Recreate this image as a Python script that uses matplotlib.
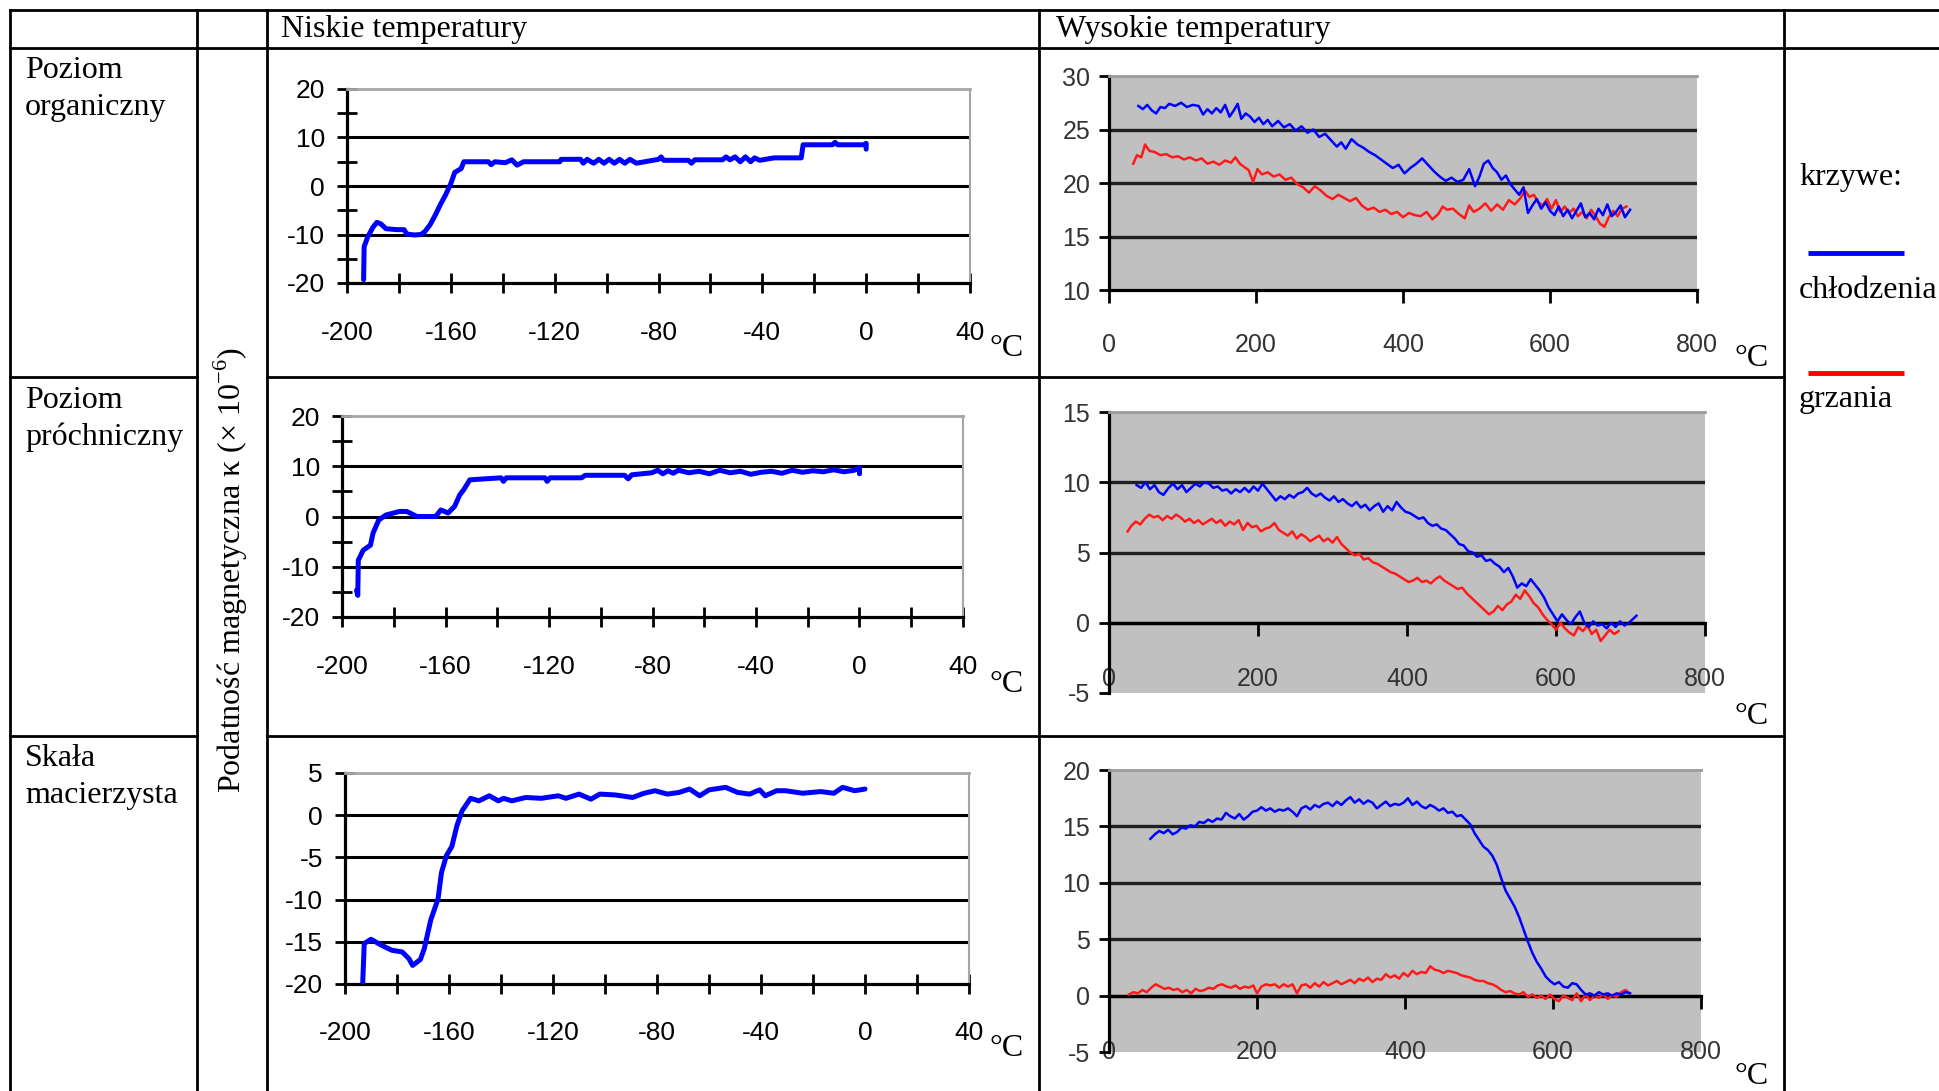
import numpy as np
import matplotlib
matplotlib.use('Agg')
import matplotlib.pyplot as plt

plt.rcParams['font.family'] = ['Liberation Serif', 'DejaVu Serif']
plt.rcParams['axes.unicode_minus'] = False
plt.rcParams['mathtext.fontset'] = 'custom'
plt.rcParams['mathtext.rm'] = 'Liberation Serif'

# ---- low temperature curves (kappa vs T in deg C) ----
T1 = [-193.6, -193.4, -192, -190, -188.5, -187, -185, -181, -178, -177, -174, -171.5, -170, -168,
      -166, -164, -162, -160, -158.5, -156, -155, -145.5, -144.5, -143, -139, -136.5, -134.5, -132,
      -118, -117.5, -110, -109, -107.5, -105, -103, -101, -99, -97, -95, -93, -91, -88.5, -80, -79,
      -78, -68.5, -67.3, -66, -55.3, -54, -52.5, -50.5, -48.5, -46.5, -44.5, -43, -41, -35.5, -25,
      -24.3, -13, -12, -11, -1, 0, 0]
k1 = [-19.3, -12.5, -10.5, -8.5, -7.5, -7.8, -8.8, -9.0, -9.0, -9.9, -10.1, -10.0, -9.4, -8.0,
      -6.0, -3.8, -1.8, 0.5, 2.8, 3.6, 5.0, 5.0, 4.4, 5.0, 4.8, 5.4, 4.3, 5.0,
      5.0, 5.5, 5.5, 4.7, 5.5, 4.7, 5.5, 4.7, 5.5, 4.7, 5.5, 4.7, 5.5, 4.7, 5.5, 6.0,
      5.3, 5.3, 4.7, 5.4, 5.4, 6.0, 5.4, 6.0, 5.0, 6.0, 5.0, 5.8, 5.3, 5.8, 5.8,
      8.5, 8.5, 9.0, 8.5, 8.5, 8.8, 7.6]

T2 = [-194.4, -193.9, -193.7, -191.8, -189, -188, -185.8, -183, -177.8, -175, -171, -163.8, -161.8,
      -159, -156.5, -154.5, -153, -150.6, -138.5, -137.6, -136.5, -121.6, -120.7, -119.6, -107.4,
      -106, -90.8, -89.4, -88, -80.3, -78, -76, -74, -72, -70, -66, -62, -58, -54, -50, -46, -42,
      -38, -34, -30, -26, -22, -18, -14, -10, -6, -2, 0, 0]
k2 = [-14.7, -15.7, -8.7, -6.7, -5.7, -3.3, -0.7, 0.3, 1.0, 1.0, 0.0, 0.0, 1.3,
      0.7, 2.0, 4.3, 5.3, 7.3, 7.7, 7.0, 7.7, 7.7, 7.0, 7.7, 7.7,
      8.2, 8.2, 7.5, 8.3, 8.7, 9.2, 8.5, 9.1, 8.6, 9.2, 8.7, 9.0, 8.5, 9.2, 8.7, 9.0, 8.4,
      8.8, 9.0, 8.6, 9.2, 8.8, 9.1, 8.9, 9.3, 8.9, 9.2, 9.7, 8.5]

T3 = [-193.2, -192.6, -190, -186, -182, -178, -175.4, -174, -171, -169.5, -167, -164.2, -162.9,
      -161, -158.9, -157, -155, -153.7, -151.7, -148.5, -144.5, -141, -139, -135.8, -130.5, -124.5,
      -118, -115, -110, -105.4, -102, -96, -89.4, -85, -80.8, -76, -71.5, -67.5, -63.6, -60, -53.6,
      -49, -44.4, -40.5, -38.4, -34, -30.5, -24, -17, -12, -8.6, -4, 0]
k3 = [-20.0, -15.2, -14.7, -15.4, -16.0, -16.2, -17.0, -17.8, -17.1, -15.8, -12.4, -9.9, -6.8,
      -4.8, -3.7, -1.3, 0.5, 1.1, 2.0, 1.7, 2.3, 1.7, 2.0, 1.7, 2.1, 2.0,
      2.3, 2.0, 2.5, 1.9, 2.5, 2.4, 2.1, 2.6, 2.9, 2.5, 2.7, 3.1, 2.3, 3.0, 3.3,
      2.7, 2.5, 3.0, 2.3, 2.9, 2.9, 2.6, 2.8, 2.6, 3.3, 2.9, 3.1]

# ---- high temperature curves: cooling (blue, c) and heating (red, h) ----
Tc1 = [40, 46, 52, 58, 64, 70, 76, 82,
       90, 98, 106, 114, 122, 128,
       134, 140, 146, 152, 158, 164, 170,
       175, 180, 186, 192, 198, 204, 210,
       216, 222, 230, 238, 246,
       254, 262, 270, 278, 286, 294,
       302, 310, 316, 322, 330, 338, 346,
       354, 362, 370, 378, 386, 394, 402,
       410, 418, 426, 434, 442, 450, 458,
       466, 474, 482, 490, 498,
       504, 510, 516, 522, 528, 534, 540, 546,
       552, 558, 564, 570, 576, 582, 588, 594, 600,
       606, 612, 618, 624, 630, 636, 642, 648, 654,
       660, 666, 672, 678, 684, 690, 696, 702, 709]
kc1 = [27.2, 26.9, 27.3, 26.8, 26.5, 27.1, 27.0, 27.4,
       27.2, 27.5, 27.1, 27.3, 27.2, 26.4,
       26.9, 26.5, 27.0, 26.6, 27.3, 26.2, 26.8,
       27.4, 26.0, 26.5, 26.2, 25.7, 26.1, 25.5,
       25.9, 25.3, 25.8, 25.2, 25.5,
       24.9, 25.3, 24.7, 25.0, 24.3, 24.6,
       24.0, 23.4, 23.8, 23.2, 24.1, 23.6, 23.3,
       22.9, 22.6, 22.2, 21.8, 21.4, 21.7, 20.9,
       21.4, 21.8, 22.3, 21.7, 21.1, 20.6, 20.2,
       20.5, 20.1, 20.3, 21.3, 19.7,
       20.6, 21.8, 22.1, 21.4, 21.0, 20.3, 20.7, 19.9,
       19.4, 18.9, 19.6, 17.2, 17.9, 18.5, 17.6, 18.2, 17.4,
       17.0, 17.8, 16.9, 17.5, 16.7, 17.4, 18.1, 16.8, 17.2,
       16.6, 17.6, 17.0, 18.0, 16.9, 17.3, 17.9, 16.8, 17.5]
Th1 = [33, 38, 44, 49, 55, 62, 70, 78,
       86, 94, 102, 110, 118, 126,
       134, 142, 150, 158, 166, 172, 178,
       184, 190, 196, 202, 208, 216, 224,
       232, 240, 248, 256, 264,
       272, 280, 288, 296, 304, 312,
       320, 328, 336, 344, 352, 360, 368,
       376, 384, 392, 400, 408, 416, 424,
       432, 440, 448, 454, 460, 468, 476,
       484, 490, 496, 504, 512,
       520, 528, 536, 544, 552, 560, 566, 572,
       578, 584, 590, 596, 602, 608, 614, 620, 626,
       632, 638, 644, 650, 656, 662, 668, 674, 680,
       686, 692, 698, 704]
kh1 = [21.8, 22.6, 22.4, 23.6, 23.0, 22.9, 22.6, 22.7,
       22.4, 22.5, 22.2, 22.4, 22.1, 22.3,
       21.8, 22.0, 21.7, 22.1, 21.9, 22.4, 21.8,
       21.5, 21.2, 20.1, 21.3, 20.8, 21.0, 20.6,
       20.8, 20.3, 20.5, 19.9, 19.6,
       19.1, 19.7, 19.3, 18.8, 18.5, 18.9,
       18.6, 18.3, 18.6, 17.9, 17.5, 17.7, 17.3,
       17.5, 17.1, 17.3, 16.8, 17.2, 17.0, 16.9,
       17.3, 16.6, 17.1, 17.8, 17.5, 17.6, 17.1,
       16.7, 17.9, 17.3, 17.6, 18.1,
       17.4, 18.0, 17.5, 18.4, 18.0, 18.6, 19.3, 18.7,
       18.9, 18.2, 17.9, 18.5, 17.6, 18.4, 17.3, 17.8, 17.2,
       17.6, 16.9, 17.3, 16.7, 17.5, 16.9, 16.2, 15.9, 16.8,
       17.4, 16.9, 17.6, 17.8]

Tc2 = [37, 43, 49, 55, 61, 67, 73, 80,
       86, 92, 98, 104, 110, 116, 122, 128,
       134, 140, 146, 152, 158, 164, 170, 176,
       182, 188, 194, 200, 206, 212, 218, 224,
       230, 236, 242, 248, 254, 260, 266, 272,
       278, 284, 290, 296, 302, 308, 314, 320,
       326, 332, 338, 344, 350, 356, 362, 368,
       374, 380, 386, 392, 398, 404, 410, 416,
       422, 428, 434, 440, 446, 452, 458, 464,
       470, 476, 482, 488, 494, 500, 506, 512,
       518, 524, 530, 536, 542, 548, 554, 560,
       566, 572, 578, 584, 590, 596, 602, 608,
       614, 620, 626, 632, 638, 644, 650, 656,
       662, 668, 674, 680, 686, 692, 698, 704, 708]
kc2 = [9.8, 9.6, 10.0, 9.5, 9.8, 9.3, 9.1, 9.6,
       9.9, 9.5, 9.8, 9.3, 9.6, 9.9, 9.7, 10.0,
       9.9, 9.6, 9.7, 9.4, 9.5, 9.2, 9.5, 9.3,
       9.6, 9.3, 9.7, 9.4, 9.9, 9.5, 9.1, 8.7,
       9.0, 8.8, 9.1, 8.9, 9.2, 9.3, 9.6, 9.2,
       9.0, 9.2, 8.9, 8.7, 9.0, 8.6, 8.8, 8.5,
       8.3, 8.6, 8.2, 8.4, 8.0, 8.3, 8.5, 7.9,
       8.3, 8.0, 8.6, 8.2, 7.9, 7.8, 7.6, 7.4,
       7.5, 7.1, 6.9, 7.0, 6.7, 6.6, 6.3, 6.0,
       5.6, 5.5, 5.1, 5.0, 4.7, 4.8, 4.4, 4.5,
       4.2, 4.0, 3.6, 3.9, 3.3, 2.5, 2.8, 2.6,
       3.1, 2.7, 2.3, 1.8, 1.1, 0.6, 0.1, 0.6,
       0.2, -0.1, 0.4, 0.8, 0.0, -0.3, 0.1, -0.2,
       -0.1, -0.4, 0.0, -0.3, 0.1, -0.2, 0.0, 0.3, 0.5]
Th2 = [25, 30, 36, 42, 48, 54, 60, 66,
       72, 78, 84, 90, 96, 102, 108, 114,
       120, 126, 132, 138, 144, 150, 156, 162,
       168, 174, 180, 186, 192, 198, 204, 210,
       216, 222, 228, 234, 240, 246, 252, 258,
       264, 270, 276, 282, 288, 294, 300, 306,
       312, 318, 324, 330, 336, 342, 348, 354,
       360, 366, 372, 378, 384, 390, 396, 402,
       408, 414, 420, 426, 432, 438, 444, 450,
       456, 462, 468, 474, 480, 486, 492, 498,
       504, 510, 516, 522, 528, 534, 540, 546,
       552, 558, 564, 570, 576, 582, 588, 594,
       600, 606, 612, 618, 624, 630, 636, 642,
       648, 654, 660, 666, 672, 678, 684]
kh2 = [6.5, 6.9, 7.2, 7.0, 7.4, 7.7, 7.5, 7.6,
       7.3, 7.6, 7.4, 7.7, 7.5, 7.2, 7.4, 7.1,
       7.3, 7.0, 7.2, 7.4, 7.1, 7.3, 6.9, 7.2,
       7.0, 7.3, 6.6, 7.1, 6.8, 6.9, 6.5, 6.7,
       6.8, 7.1, 6.6, 6.4, 6.2, 6.5, 6.0, 6.3,
       6.1, 5.8, 6.0, 6.2, 5.8, 6.0, 5.7, 6.1,
       5.6, 5.3, 5.0, 4.8, 4.9, 4.5, 4.6, 4.3,
       4.2, 4.0, 3.8, 3.6, 3.5, 3.3, 3.1, 2.9,
       3.0, 3.2, 2.9, 3.0, 2.8, 3.1, 3.3, 3.0,
       2.8, 2.6, 2.4, 2.5, 2.1, 1.8, 1.5, 1.2,
       0.9, 0.6, 0.8, 1.2, 0.9, 1.3, 1.5, 2.0,
       1.7, 2.3, 1.9, 1.4, 1.1, 0.6, 0.2, -0.1,
       -0.5, 0.0, -0.4, -0.7, -0.9, -0.3, -0.6, -0.2,
       -0.8, -0.5, -1.3, -0.9, -0.5, -0.8, -0.6]

Tc3 = [56, 62, 68, 74, 80, 86, 92, 98,
       104, 110, 116, 122, 128, 134, 140, 146,
       152, 158, 164, 170, 176, 182, 188, 194,
       200, 206, 212, 218, 224, 230, 236, 242,
       248, 254, 260, 266, 272, 278, 284, 290,
       296, 302, 308, 314, 320, 326, 332, 338,
       344, 350, 356, 362, 368, 374, 380, 386,
       392, 398, 404, 410, 416, 422, 428, 434,
       440, 446, 452, 458, 464, 470, 476, 482,
       488, 494, 500, 506, 512, 518, 524, 530,
       536, 542, 548, 554, 560, 566, 572, 578,
       584, 590, 596, 602, 608, 614, 620, 626,
       632, 638, 644, 650, 656, 662, 668, 674,
       680, 686, 692, 698, 704]
kc3 = [13.9, 14.3, 14.6, 14.4, 14.7, 14.3, 14.5, 14.9,
       14.8, 15.1, 15.0, 15.4, 15.3, 15.6, 15.4, 15.7,
       15.6, 16.2, 15.9, 15.7, 16.1, 15.6, 15.9, 16.3,
       16.4, 16.7, 16.4, 16.6, 16.3, 16.5, 16.4, 16.6,
       16.3, 15.9, 16.6, 16.8, 16.5, 16.9, 16.7, 17.0,
       17.1, 16.8, 17.2, 16.9, 17.3, 17.6, 17.1, 17.4,
       17.0, 17.3, 17.1, 16.6, 16.9, 17.2, 16.8, 17.0,
       16.9, 17.1, 17.5, 16.9, 17.2, 16.8, 16.6, 16.9,
       16.7, 16.4, 16.6, 16.2, 16.3, 15.9, 16.0, 15.6,
       15.2, 14.4, 13.8, 13.2, 12.9, 12.4, 11.6, 10.4,
       9.3, 8.6, 7.9, 7.0, 5.9, 4.8, 3.8, 3.0,
       2.4, 1.7, 1.3, 1.0, 1.2, 0.8, 0.7, 1.1,
       1.0, 0.5, 0.1, 0.2, 0.0, 0.3, 0.1, 0.2,
       0.0, 0.2, 0.1, 0.3, 0.2]
Th3 = [27, 33, 39, 45, 51, 57, 63, 69,
       75, 81, 87, 93, 99, 105, 111, 117,
       123, 129, 135, 141, 147, 153, 159, 165,
       171, 177, 183, 189, 195, 200, 206, 212,
       218, 224, 230, 236, 242, 248, 254, 260,
       266, 272, 278, 284, 290, 296, 302, 308,
       314, 320, 326, 332, 338, 344, 350, 356,
       362, 368, 374, 380, 386, 392, 398, 404,
       410, 416, 422, 428, 434, 440, 446, 452,
       458, 464, 470, 476, 482, 488, 494, 500,
       506, 512, 518, 524, 530, 536, 542, 548,
       554, 560, 566, 572, 578, 584, 590, 596,
       602, 608, 614, 620, 626, 632, 638, 644,
       650, 656, 662, 668, 674, 680, 686, 692, 698, 704]
kh3 = [0.1, 0.3, 0.2, 0.5, 0.3, 0.7, 1.0, 0.8,
       0.6, 0.7, 0.5, 0.6, 0.3, 0.5, 0.2, 0.6,
       0.4, 0.5, 0.7, 0.6, 0.9, 1.0, 0.8, 0.7,
       0.9, 0.6, 0.8, 0.7, 0.9, 0.2, 0.8, 1.0,
       0.9, 1.0, 0.7, 1.0, 0.8, 1.0, 0.2, 0.9,
       1.0, 0.7, 1.1, 0.8, 1.2, 0.9, 1.1, 1.3,
       1.0, 1.2, 1.4, 1.1, 1.5, 1.3, 1.6, 1.2,
       1.5, 1.4, 1.9, 1.6, 1.8, 1.5, 2.0, 1.7,
       2.2, 1.9, 2.1, 2.0, 2.6, 2.3, 2.2, 2.0,
       2.2, 2.1, 2.0, 1.8, 1.7, 1.6, 1.4, 1.3,
       1.3, 1.1, 1.0, 0.8, 0.5, 0.3, 0.4, 0.2,
       0.1, 0.3, -0.1, 0.1, -0.2, 0.0, -0.3, 0.1,
       -0.3, -0.5, 0.0, -0.2, -0.4, 0.2, -0.5, 0.1,
       -0.4, 0.0, -0.2, 0.1, -0.3, 0.0, -0.1, 0.3, 0.5, 0.2]

row_labels = ['Poziom\norganiczny', 'Poziom\npróchniczny', 'Skała\nmacierzysta']
col_titles = ['Niskie temperatury', 'Wysokie temperatury']
ylabel = 'Podatność magnetyczna κ (× 10$^{-6}$)'
legend_title = 'krzywe:'
legend_names = ['chłodzenia', 'grzania']

W, H = 1939, 1091
fig = plt.figure(figsize=(W / 100, H / 100), dpi=100)

# background layer in pixel coordinates for the table
bg = fig.add_axes([0, 0, 1, 1])
bg.set_xlim(0, W)
bg.set_ylim(H, 0)
bg.axis('off')

lw_tab = 2.0
for x in [10, 197, 267, 1039, 1784]:
    bg.plot([x, x], [10, H], color='black', lw=lw_tab)
for y in [10, 48]:
    bg.plot([10, W], [y, y], color='black', lw=lw_tab)
for y in [377, 736]:
    bg.plot([10, 197], [y, y], color='black', lw=lw_tab)
    bg.plot([267, 1784], [y, y], color='black', lw=lw_tab)

bg.text(281, 30, col_titles[0], fontsize=23, va='center', ha='left')
bg.text(1056, 30, col_titles[1], fontsize=23, va='center', ha='left')
for ytop, lab in zip([56, 386, 744], row_labels):
    bg.text(25, ytop, lab, fontsize=23, va='top', ha='left', linespacing=1.35)
bg.text(231, 570, ylabel, fontsize=23, rotation=90, va='center', ha='center')

# legend
bg.text(1799, 178, legend_title, fontsize=23, va='center', ha='left')
bg.plot([1808, 1904], [253, 253], color='#0000FF', lw=3.5, solid_capstyle='butt')
bg.text(1799, 290, legend_names[0], fontsize=23, va='center', ha='left')
bg.plot([1808, 1904], [373, 373], color='#FF0000', lw=3.5, solid_capstyle='butt')
bg.text(1799, 400, legend_names[1], fontsize=23, va='center', ha='left')

# degree labels
for xc, yc in [(1007, 348), (1007, 685), (1007, 1048), (1752, 358), (1752, 717), (1752, 1077)]:
    bg.text(xc, yc, '°C', fontsize=23, va='center', ha='center')


def px_rect(x0, x1, y0, y1):
    return [x0 / W, 1 - y1 / H, (x1 - x0) / W, (y1 - y0) / H]


def draw_low(rect, T, k, ylim, ystep, minor):
    ax = fig.add_axes(rect, facecolor='none')
    ax.set_xlim(-200, 40)
    ax.set_ylim(ylim)
    yt = np.arange(ylim[0], ylim[1] + 1, ystep)
    ax.set_yticks(yt)
    if minor:
        ax.set_yticks(np.arange(ylim[0] + ystep / 2, ylim[1], ystep), minor=True)
    ax.set_xticks(np.arange(-200, 41, 40))
    ax.set_xticks(np.arange(-180, 40, 40), minor=True)
    for g in yt[1:-1]:
        ax.axhline(g, color='black', lw=2.2, zorder=1)
    ax.plot(T, k, color='#0000FF', lw=3.6, zorder=3,
            solid_joinstyle='round', solid_capstyle='round')
    for s in ['left', 'bottom']:
        ax.spines[s].set_linewidth(2.3)
        ax.spines[s].set_color('black')
    ax.spines['top'].set_color('#A6A6A6')
    ax.spines['top'].set_linewidth(2)
    ax.spines['right'].set_color('#A6A6A6')
    ax.spines['right'].set_linewidth(1.5)
    ax.tick_params(which='both', direction='inout', length=14, width=2, color='black')
    ax.tick_params(axis='x', which='major', pad=20)
    ax.tick_params(axis='y', which='major', pad=9)
    for lab in ax.get_xticklabels() + ax.get_yticklabels():
        lab.set_fontfamily('Liberation Sans')
        lab.set_fontsize(19)
    return ax


def draw_high(rect, Tc, kc, Th, kh, ylim, zero_axis, xpad):
    ax = fig.add_axes(rect, facecolor='#C0C0C0')
    ax.set_xlim(0, 800)
    ax.set_ylim(ylim)
    yt = np.arange(ylim[0], ylim[1] + 1, 5)
    ax.set_yticks(yt)
    ax.set_xticks(np.arange(0, 801, 200))
    for g in yt[1:-1]:
        ax.axhline(g, color='#202020', lw=2.4, zorder=1)
    ax.plot(Th, kh, color='#FF1A1A', lw=1.8, zorder=3)
    ax.plot(Tc, kc, color='#0000FF', lw=1.8, zorder=3)
    if zero_axis:
        ax.spines['bottom'].set_position(('data', 0))
    for s in ['left', 'bottom']:
        ax.spines[s].set_linewidth(2.3)
        ax.spines[s].set_color('black')
    ax.spines['top'].set_color('#9A9A9A')
    ax.spines['top'].set_linewidth(2)
    ax.spines['right'].set_visible(False)
    ax.tick_params(axis='x', direction='out', length=9, width=2, pad=xpad, colors='black',
                   labelcolor='#333333')
    ax.tick_params(axis='y', direction='out', length=7, width=2, pad=6.5, colors='black',
                   labelcolor='#333333')
    for lab in ax.get_xticklabels() + ax.get_yticklabels():
        lab.set_fontfamily('Liberation Sans')
        lab.set_fontsize(18)
    return ax


draw_low(px_rect(347, 970, 89, 283), T1, k1, (-20, 20), 10, True)
draw_low(px_rect(342, 963, 416, 617), T2, k2, (-20, 20), 10, True)
draw_low(px_rect(345, 969, 773, 984), T3, k3, (-20, 5), 5, False)

draw_high(px_rect(1109, 1697, 76, 290), Tc1, kc1, Th1, kh1, (10, 30), False, 22)
draw_high(px_rect(1109, 1705, 412, 693), Tc2, kc2, Th2, kh2, (-5, 15), True, 23)
draw_high(px_rect(1109, 1701, 770, 1052), Tc3, kc3, Th3, kh3, (-5, 20), True, 23)

fig.savefig('out.png', dpi=100)
